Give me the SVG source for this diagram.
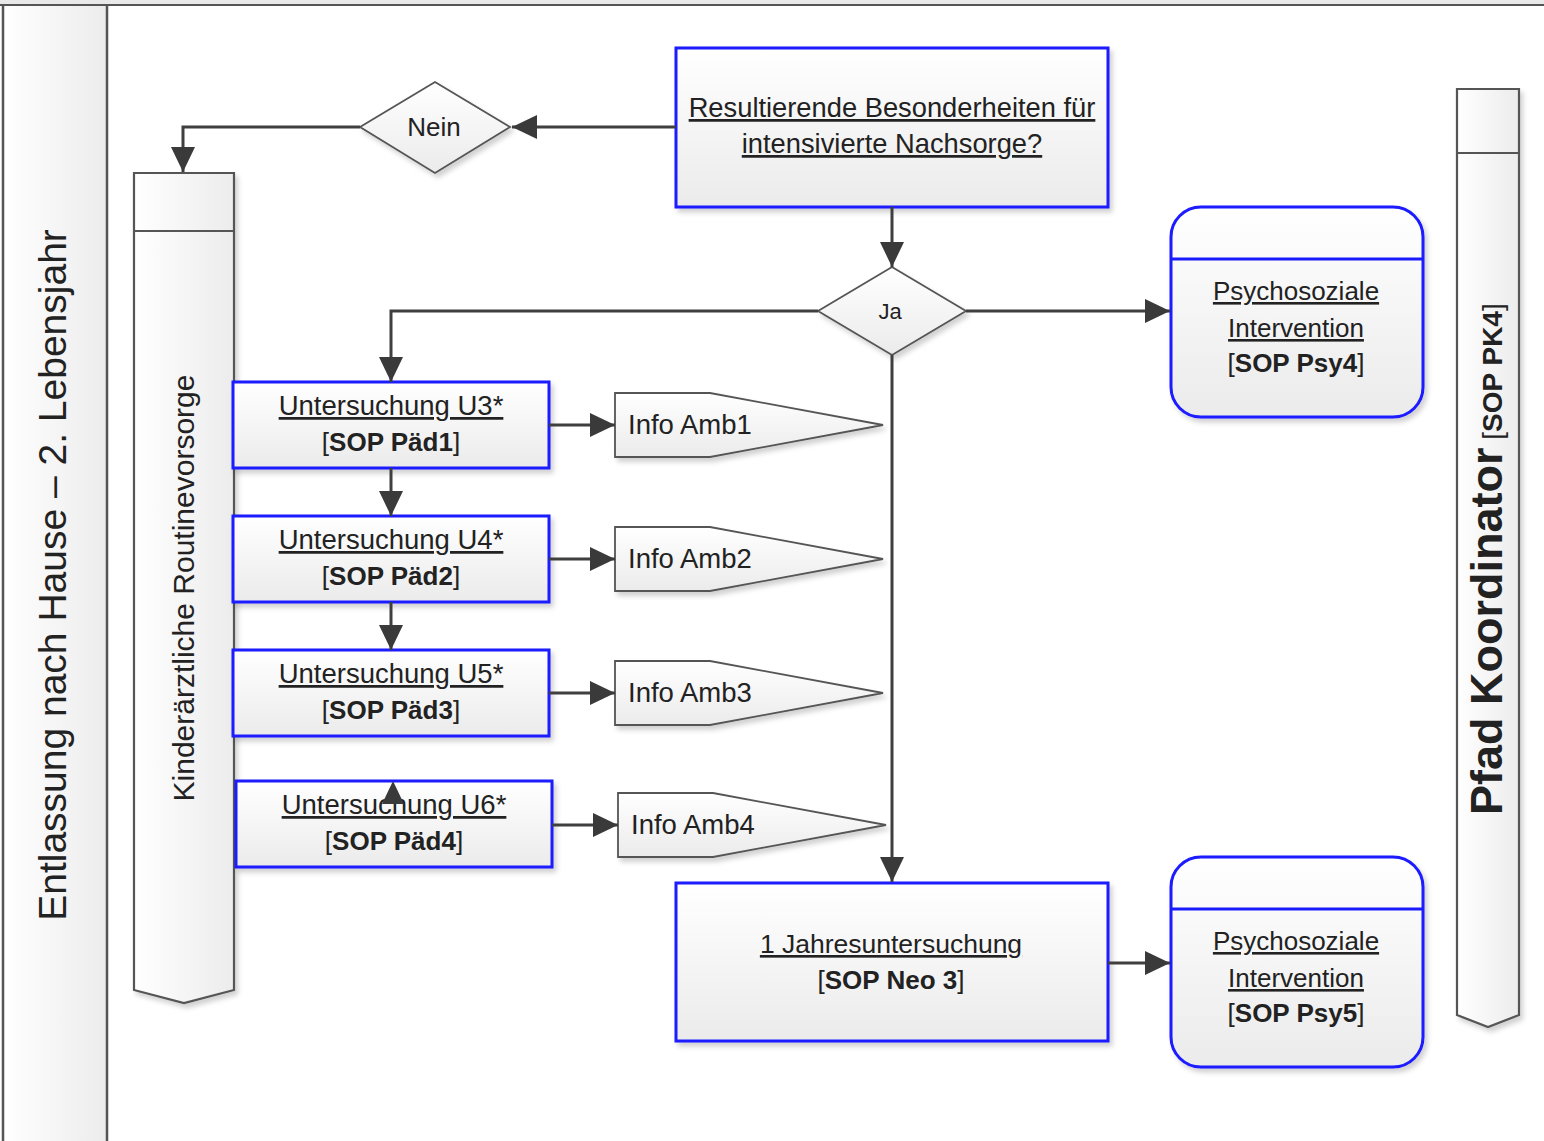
<svg xmlns="http://www.w3.org/2000/svg" width="1544" height="1141" viewBox="0 0 1544 1141">
<defs>
<linearGradient id="gv" x1="0" y1="0" x2="0" y2="1"><stop offset="0" stop-color="#ffffff"/><stop offset="1" stop-color="#ebebeb"/></linearGradient>
<linearGradient id="gh" x1="0" y1="0" x2="1" y2="0"><stop offset="0" stop-color="#ffffff"/><stop offset="1" stop-color="#ececec"/></linearGradient>
<filter id="sh" x="-10%" y="-10%" width="130%" height="130%"><feDropShadow dx="3" dy="4" stdDeviation="2.5" flood-color="#000" flood-opacity="0.18"/></filter>
<marker id="ah" markerUnits="userSpaceOnUse" markerWidth="26" markerHeight="24" refX="25" refY="12" orient="auto"><path d="M0,0 L25,12 L0,24 Z" fill="#3a3a3a"/></marker>
<style>
.t{font-family:"Liberation Sans",Arial,sans-serif;fill:#222;}
.c{text-anchor:middle;}
.u{text-decoration:underline;}
.b{font-weight:bold;}
.box{fill:url(#gv);stroke:#1a1aff;stroke-width:3;filter:url(#sh);}
.gray{fill:url(#gv);stroke:#555;stroke-width:1.8;filter:url(#sh);}
.col{fill:url(#gh);stroke:#555;stroke-width:2.2;filter:url(#sh);}
.con{fill:none;stroke:#3f3f3f;stroke-width:3;marker-end:url(#ah);}
</style>
</defs>
<rect x="0" y="0" width="1544" height="1141" fill="#ffffff"/>
<g id="frame">
<rect x="0" y="0" width="1544" height="5" fill="#e9e9e9"/>
<rect x="3" y="5" width="104" height="1136" fill="url(#gh)"/>
<line x1="0" y1="5" x2="1544" y2="5" stroke="#555" stroke-width="2"/>
<line x1="3" y1="5" x2="3" y2="1141" stroke="#555" stroke-width="2.5"/>
<line x1="107" y1="5" x2="107" y2="1141" stroke="#555" stroke-width="2.5"/>
<text class="t c" font-size="39" transform="translate(66,575) rotate(-90)">Entlassung nach Hause – 2. Lebensjahr</text>
</g>
<g id="routine">
<path class="col" d="M134,173 H234 V990 L184,1003 L134,990 Z"/>
<line x1="134" y1="231" x2="234" y2="231" stroke="#555" stroke-width="2.2"/>
<text class="t c" font-size="30" transform="translate(194,588) rotate(-90)">Kinderärztliche Routinevorsorge</text>
</g>
<g id="koordinator">
<path class="col" d="M1457,89 H1519 V1015 L1488,1027 L1457,1015 Z"/>
<line x1="1457" y1="153" x2="1519" y2="153" stroke="#555" stroke-width="2.2"/>
<text class="t" transform="translate(1502,815) rotate(-90)"><tspan class="b" font-size="45">Pfad Koordinator</tspan><tspan font-size="28"> [</tspan><tspan class="b" font-size="28">SOP PK4</tspan><tspan font-size="28">]</tspan></text>
</g>
<g id="frage">
<rect class="box" x="676" y="48" width="432" height="159"/>
<text class="t c u" font-size="27.3" x="892" y="117">Resultierende Besonderheiten für</text>
<text class="t c u" font-size="27.3" x="892" y="153">intensivierte Nachsorge?</text>
</g>
<g id="nein">
<polygon class="gray" points="360,127 435,82 510,127 435,173"/>
<text class="t c" font-size="26" x="434" y="136">Nein</text>
</g>
<g id="ja">
<polygon class="gray" points="818,311 892,267 966,311 892,355"/>
<text class="t c" font-size="22" x="890" y="319">Ja</text>
</g>
<g id="psy4">
<rect class="box" x="1171" y="207" width="252" height="210" rx="30"/>
<line x1="1171" y1="259" x2="1423" y2="259" stroke="#1a1aff" stroke-width="3"/>
<text class="t c u" font-size="26" x="1296" y="300">Psychosoziale</text>
<text class="t c u" font-size="26" x="1296" y="337">Intervention</text>
<text class="t c" font-size="26" x="1296" y="372">[<tspan class="b">SOP Psy4</tspan>]</text>
</g>
<g id="u3">
<rect class="box" x="233" y="382" width="316" height="86"/>
<text class="t c u" font-size="27.5" x="391" y="415">Untersuchung U3*</text>
<text class="t c" font-size="26" x="391" y="451">[<tspan class="b">SOP Päd1</tspan>]</text>
</g>
<g id="u4">
<rect class="box" x="233" y="516" width="316" height="86"/>
<text class="t c u" font-size="27.5" x="391" y="549">Untersuchung U4*</text>
<text class="t c" font-size="26" x="391" y="585">[<tspan class="b">SOP Päd2</tspan>]</text>
</g>
<g id="u5">
<rect class="box" x="233" y="650" width="316" height="86"/>
<text class="t c u" font-size="27.5" x="391" y="683">Untersuchung U5*</text>
<text class="t c" font-size="26" x="391" y="719">[<tspan class="b">SOP Päd3</tspan>]</text>
</g>
<g id="u6">
<rect class="box" x="236" y="781" width="316" height="86"/>
<text class="t c u" font-size="27.5" x="394" y="814">Untersuchung U6*</text>
<text class="t c" font-size="26" x="394" y="850">[<tspan class="b">SOP Päd4</tspan>]</text>
</g>
<g id="info1">
<path class="gray" d="M615,393 H710 L883,425 L710,457 H615 Z"/>
<text class="t" font-size="27.5" x="628" y="434">Info Amb1</text>
</g>
<g id="info2">
<path class="gray" d="M615,527 H710 L883,559 L710,591 H615 Z"/>
<text class="t" font-size="27.5" x="628" y="568">Info Amb2</text>
</g>
<g id="info3">
<path class="gray" d="M615,661 H710 L883,693 L710,725 H615 Z"/>
<text class="t" font-size="27.5" x="628" y="702">Info Amb3</text>
</g>
<g id="info4">
<path class="gray" d="M618,793 H713 L886,825 L713,857 H618 Z"/>
<text class="t" font-size="27.5" x="631" y="834">Info Amb4</text>
</g>
<g id="jahr">
<rect class="box" x="676" y="883" width="432" height="158"/>
<text class="t c u" font-size="26.5" x="891" y="953">1 Jahresuntersuchung</text>
<text class="t c" font-size="26" x="891" y="989">[<tspan class="b">SOP Neo 3</tspan>]</text>
</g>
<g id="psy5">
<rect class="box" x="1171" y="857" width="252" height="210" rx="30"/>
<line x1="1171" y1="909" x2="1423" y2="909" stroke="#1a1aff" stroke-width="3"/>
<text class="t c u" font-size="26" x="1296" y="950">Psychosoziale</text>
<text class="t c u" font-size="26" x="1296" y="987">Intervention</text>
<text class="t c" font-size="26" x="1296" y="1022">[<tspan class="b">SOP Psy5</tspan>]</text>
</g>
<g id="connectors">
<path class="con" d="M676,127 H512"/>
<path class="con" d="M360,127 H183 V172"/>
<path class="con" d="M892,207 V267"/>
<path class="con" d="M818,311 H391 V382"/>
<path class="con" d="M966,311 H1170"/>
<path class="con" d="M892,355 V882"/>
<path class="con" d="M391,468 V516"/>
<path class="con" d="M391,602 V650"/>
<polygon points="393,781 382,804 404,804" fill="#3a3a3a"/>
<path class="con" d="M549,425 H615"/>
<path class="con" d="M549,559 H615"/>
<path class="con" d="M549,693 H615"/>
<path class="con" d="M552,825 H618"/>
<path class="con" d="M1108,963 H1170"/>
</g>
</svg>
